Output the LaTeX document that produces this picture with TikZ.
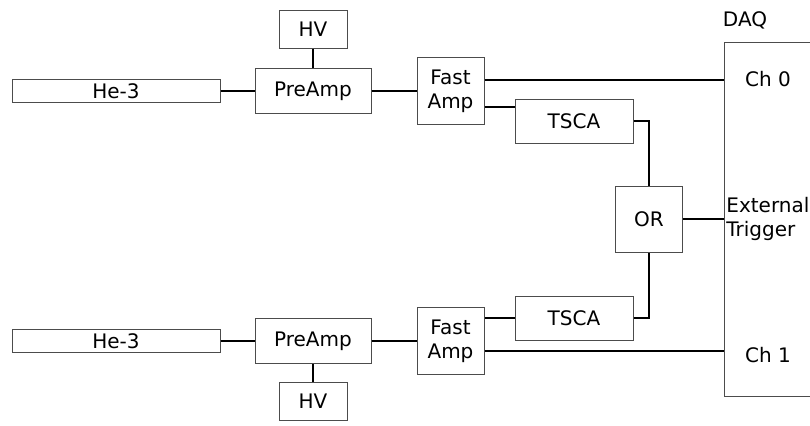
\documentclass[tikz,border=0pt]{standalone}
\usepackage{fontspec}
\setmainfont{DejaVu Sans}
\usetikzlibrary{positioning}
\begin{document}
\begin{tikzpicture}[x=0.5pt,y=-0.5pt,
	box/.style={draw=black!70,line width=0.5pt,inner sep=0pt,font=\fontsize{10}{12}\selectfont,align=center},
	wire/.style={line width=1pt},
	lbl/.style={inner sep=0pt,font=\fontsize{10}{12}\selectfont}]
	\useasboundingbox (0,0) rectangle (810,425);
	% top channel
	\node[box,minimum width=104pt,minimum height=11.5pt] (he3a) at (116,91) {He-3};
	\node[box,minimum width=58pt,minimum height=22.5pt] (preampa) at (313,91) {PreAmp};
	\node[box,minimum width=34pt,minimum height=19pt] (hva) at (313,29) {HV};
	\node[box,minimum width=33.5pt,minimum height=33.5pt] (fasta) at (450.5,91) {Fast\\Amp};
	\node[box,minimum width=59pt,minimum height=22pt] (tscaa) at (574,121) {TSCA};
	% bottom channel
	\node[box,minimum width=104pt,minimum height=11.5pt] (he3b) at (116,341) {He-3};
	\node[box,minimum width=58pt,minimum height=22.5pt] (preampb) at (313,341) {PreAmp};
	\node[box,minimum width=34pt,minimum height=19pt] (hvb) at (313,401) {HV};
	\node[box,minimum width=33.5pt,minimum height=33.5pt] (fastb) at (450.5,341) {Fast\\Amp};
	\node[box,minimum width=59pt,minimum height=22pt] (tscab) at (574,318) {TSCA};
	% coincidence and DAQ
	\node[box,minimum width=33.5pt,minimum height=33pt] (or) at (649,219) {OR};
	\node[box,anchor=west,minimum width=60pt,minimum height=177pt] (daq) at (724,219) {};
	\node[lbl] (daqlbl) at (745,20) {DAQ};
	\node[lbl] (ch0) at (768,79) {Ch 0};
	\node[lbl] (ch1) at (768,355) {Ch 1};
	\node[lbl,align=left,anchor=west] (trig) at (726,219) {External\\Trigger};
	\foreach \x/\y in {he3a/preampa,hva/preampa,preampa/fasta,he3b/preampb,hvb/preampb,preampb/fastb}
		\draw[wire] (\x) -- (\y);
	\draw[wire] ([yshift=5.5pt]fasta.east) -- ([yshift=5.5pt]fasta.east -| daq.west);
	\draw[wire] ([yshift=-8pt]fasta.east) -- ([yshift=-8pt]fasta.east -| tscaa.west);
	\draw[wire] ([yshift=11.5pt]fastb.east) -- ([yshift=11.5pt]fastb.east -| tscab.west);
	\draw[wire] ([yshift=-5pt]fastb.east) -- ([yshift=-5pt]fastb.east -| daq.west);
	\draw[wire] (tscaa.east) -| (or.north);
	\draw[wire] (tscab.east) -| (or.south);
	\draw[wire] (or.east) -- (or -| daq.west);
\end{tikzpicture}
\end{document}
